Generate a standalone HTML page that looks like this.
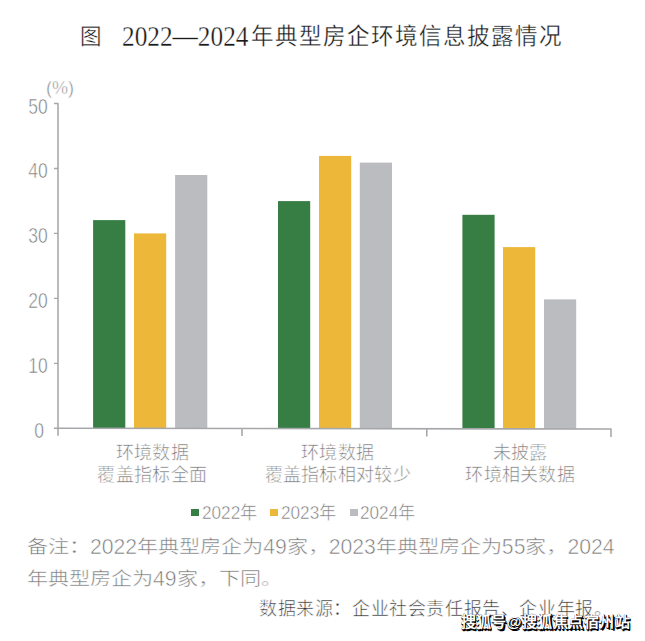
<!DOCTYPE html>
<html lang="zh-CN"><head><meta charset="utf-8">
<style>
html,body{margin:0;padding:0;background:#fff;}
body{width:645px;height:641px;position:relative;overflow:hidden;font-family:"Liberation Sans",sans-serif;}
.t{position:absolute;white-space:nowrap;line-height:1;}
.ti{position:absolute;white-space:nowrap;line-height:1;color:#1a1a1a;-webkit-text-stroke:0.3px #fff;}
.yl{position:absolute;width:40px;left:18px;font-size:21.6px;color:#7c7c7c;-webkit-text-stroke:0.55px #fff;line-height:1;text-align:center;transform:scaleX(0.81);}
.cl{position:absolute;font-size:18px;letter-spacing:0.3px;color:#787878;-webkit-text-stroke:0.5px #fff;line-height:21.8px;text-align:center;width:200px;}
.lg{position:absolute;top:503.5px;font-size:18px;color:#787878;-webkit-text-stroke:0.5px #fff;line-height:1;transform:scaleX(0.955);transform-origin:0 0;}
.sq{position:absolute;width:8px;height:7px;top:509px;}
.nt{font-size:21.2px;line-height:32px;color:#787878;-webkit-text-stroke:0.55px #fff;}
#src{left:259px;top:600px;font-size:18px;letter-spacing:0.6px;color:#333;-webkit-text-stroke:0.5px #fff;}
.wm{left:460.5px;top:614.3px;font-size:15px;letter-spacing:0.45px;font-weight:bold;color:#fff;text-shadow:1px 1px 0 #000,1.5px 1.5px 0 #000,0.5px 0 0 #000,0 0.5px 0 #000;}
svg{position:absolute;left:0;top:0;}
.c{display:inline-block;line-height:1;transform:scaleY(0.84);transform-origin:50% 50%;}
</style></head><body>
<div class="ti" style="left:80px;top:27px;font-size:21.5px;">图</div>
<div class="ti" style="left:122px;top:22px;font-family:'Liberation Serif',serif;font-size:29px;transform:scaleX(0.872);transform-origin:0 0;">2022—2024</div>
<div class="ti" style="left:250.5px;top:26.3px;font-size:22.5px;letter-spacing:1.05px;">年典型房企环境信息披露情况</div>

<svg width="645" height="641" viewBox="0 0 645 641">
  <g fill="#377e45">
    <rect x="93.1" y="220.1" width="32.2" height="208.4"/>
    <rect x="278" y="201.1" width="32.2" height="227.4"/>
    <rect x="462.4" y="214.8" width="32.2" height="214"/>
  </g>
  <g fill="#edb83a">
    <rect x="134" y="233.4" width="32.2" height="195.1"/>
    <rect x="319" y="155.9" width="32.2" height="272.6"/>
    <rect x="503" y="247.1" width="32.2" height="181.7"/>
  </g>
  <g fill="#bbbcbf">
    <rect x="175.1" y="175" width="32.2" height="253.8"/>
    <rect x="359.8" y="162.6" width="32.2" height="265.9"/>
    <rect x="544" y="299.4" width="32.2" height="129.4"/>
  </g>
  <g stroke="#a6a7ab" stroke-width="1.55" fill="none" stroke-linejoin="round">
    <path d="M54 103.5H58V435.8"/>
    <path d="M54 168.5H58M54 233.4H58M54 298.4H58M54 363.4H58" stroke-width="1.4"/>
    <path d="M54 428.3L611 429V437"/>
    <path d="M242 428.5V436M426.8 428.8V436.5"/>
  </g>
</svg>

<div class="t" style="left:46px;top:79px;font-size:18px;color:#7c7c7c;-webkit-text-stroke:0.5px #fff;">(%)</div>
<div class="yl" style="top:95.6px">50</div>
<div class="yl" style="top:160.2px">40</div>
<div class="yl" style="top:224.9px">30</div>
<div class="yl" style="top:289.8px">20</div>
<div class="yl" style="top:354.8px">10</div>
<div class="yl" style="top:419.8px;left:19px">0</div>

<div class="cl" style="left:52.4px;top:443.1px">环境数据<br>覆盖指标全面</div>
<div class="cl" style="left:237.8px;top:443.1px">环境数据<br>覆盖指标相对较少</div>
<div class="cl" style="left:420.2px;top:443.1px">未披露<br>环境相关数据</div>

<div class="sq" style="left:191px;background:#377e45"></div>
<div class="lg" style="left:202px">2022年</div>
<div class="sq" style="left:270.2px;background:#edb83a"></div>
<div class="lg" style="left:281px">2023年</div>
<div class="sq" style="left:350px;background:#bbbcbf"></div>
<div class="lg" style="left:360px">2024年</div>

<div class="t nt" style="left:27px;top:531px"><span class="c">备注：</span></div>
<div class="t nt" style="left:90px;top:531px">2022</div>
<div class="t nt" style="left:137.14px;top:531px"><span class="c">年典型房企为</span></div>
<div class="t nt" style="left:263.14px;top:531px">49</div>
<div class="t nt" style="left:286.72px;top:531px"><span class="c">家，</span></div>
<div class="t nt" style="left:328.72px;top:531px">2023</div>
<div class="t nt" style="left:375.86px;top:531px"><span class="c">年典型房企为</span></div>
<div class="t nt" style="left:501.86px;top:531px">55</div>
<div class="t nt" style="left:525.44px;top:531px"><span class="c">家，</span></div>
<div class="t nt" style="left:567.44px;top:531px">2024</div>
<div class="t nt" style="left:27px;top:563px"><span class="c">年典型房企为</span></div>
<div class="t nt" style="left:153px;top:563px">49</div>
<div class="t nt" style="left:176.58px;top:563px"><span class="c">家，下同。</span></div>
<div class="t" id="src">数据来源：企业社会责任报告、企业年报。</div>
<div class="t wm">搜狐号@搜狐焦点宿州站</div>
</body></html>
